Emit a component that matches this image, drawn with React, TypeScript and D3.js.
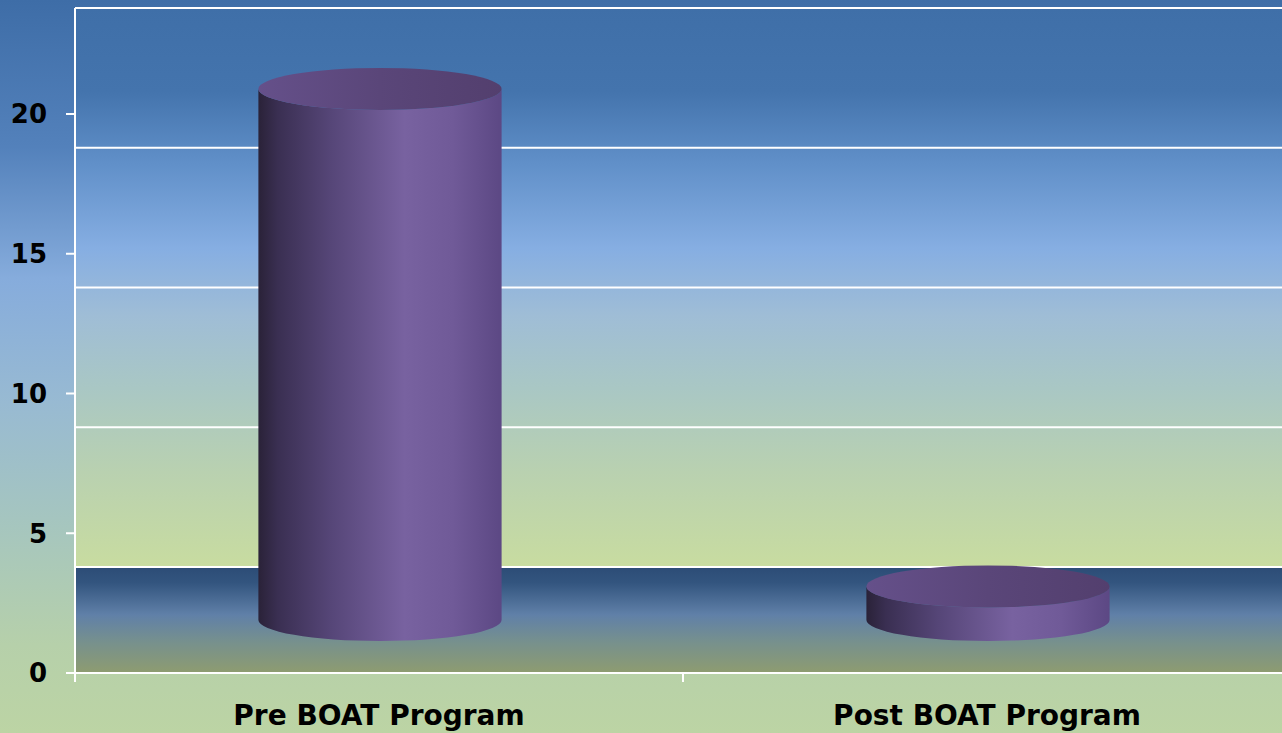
import * as d3 from "d3";

// Chart data
const categories = ["Pre BOAT Program", "Post BOAT Program"];
const values = [19, 1.2];
const yTicks = [0, 5, 10, 15, 20];

const W = 1282;
const H = 733;

const App = () => {
  // front edge of the floor (axis labels) and back-wall offset
  const left = 75;
  const right = 1291;
  const y = d3.scaleLinear().domain([0, 20]).range([673, 114]);
  const depth = 106; // back wall is shifted up by this much
  const x = d3.scaleBand().domain(categories).range([left, right]);

  const backY = (v: number) => y(v) - depth;
  const midY = (v: number) => y(v) - depth / 2;

  const rx = x.bandwidth() * 0.2;
  const ry = 21;

  const font = "'DejaVu Sans', Verdana, sans-serif";

  return (
    <svg
      width={W}
      height={H}
      style={{ position: "absolute", left: 0, top: 0, display: "block" }}
    >
      <defs>
        <linearGradient id="pageBg" x1="0" y1="0" x2="0" y2="1">
          <stop offset="0" stopColor="#3e6da7" />
          <stop offset="0.2" stopColor="#5381bb" />
          <stop offset="0.38" stopColor="#86acdc" />
          <stop offset="0.55" stopColor="#98bad2" />
          <stop offset="0.72" stopColor="#a6c6be" />
          <stop offset="0.88" stopColor="#b6d0aa" />
          <stop offset="1" stopColor="#bcd4a4" />
        </linearGradient>
        <linearGradient id="wallBg" x1="0" y1="0" x2="0" y2="1">
          <stop offset="0" stopColor="#3f6fa8" />
          <stop offset="0.15" stopColor="#4474ad" />
          <stop offset="0.28" stopColor="#6190c9" />
          <stop offset="0.43" stopColor="#86aee2" />
          <stop offset="0.55" stopColor="#9fbdd6" />
          <stop offset="0.68" stopColor="#a9c7c4" />
          <stop offset="0.83" stopColor="#b9d1b0" />
          <stop offset="1" stopColor="#c8dca0" />
        </linearGradient>
        <linearGradient id="floorBg" x1="0" y1="0" x2="0" y2="1">
          <stop offset="0" stopColor="#2c4c76" />
          <stop offset="0.15" stopColor="#33557f" />
          <stop offset="0.45" stopColor="#6080a8" />
          <stop offset="0.7" stopColor="#76908e" />
          <stop offset="1" stopColor="#8e9c70" />
        </linearGradient>
        <linearGradient id="cylSide" x1="0" y1="0" x2="1" y2="0">
          <stop offset="0" stopColor="#2a2238" />
          <stop offset="0.08" stopColor="#3a2f52" />
          <stop offset="0.3" stopColor="#564678" />
          <stop offset="0.6" stopColor="#7862a0" />
          <stop offset="0.8" stopColor="#705a98" />
          <stop offset="1" stopColor="#5c4884" />
        </linearGradient>
        <linearGradient id="cylTop" x1="0" y1="0" x2="1" y2="0">
          <stop offset="0" stopColor="#65508a" />
          <stop offset="0.5" stopColor="#5a4679" />
          <stop offset="1" stopColor="#533f6e" />
        </linearGradient>
      </defs>

      {/* page background */}
      <rect x={0} y={0} width={W} height={H} fill="url(#pageBg)" />

      {/* back wall */}
      <rect
        x={left}
        y={backY(20)}
        width={right - left}
        height={backY(0) - backY(20)}
        fill="url(#wallBg)"
      />

      {/* floor */}
      <rect
        x={left}
        y={backY(0)}
        width={right - left}
        height={y(0) - backY(0)}
        fill="url(#floorBg)"
      />

      {/* wall gridlines */}
      {yTicks.map((t) => (
        <line
          key={"g" + t}
          x1={left}
          x2={right}
          y1={backY(t)}
          y2={backY(t)}
          stroke="#ffffff"
          strokeWidth={2}
        />
      ))}

      {/* value axis */}
      <line x1={left} x2={left} y1={backY(20)} y2={y(0) + 9} stroke="#ffffff" strokeWidth={2} />
      {yTicks.map((t) => (
        <g key={"t" + t}>
          <line x1={left - 9} x2={left} y1={y(t)} y2={y(t)} stroke="#ffffff" strokeWidth={2} />
          <text
            x={47}
            y={y(t)}
            dy="0.36em"
            textAnchor="end"
            fontFamily={font}
            fontWeight="bold"
            fontSize={26}
            fill="#000000"
          >
            {t}
          </text>
        </g>
      ))}

      {/* category axis */}
      <line x1={left} x2={right} y1={y(0)} y2={y(0)} stroke="#ffffff" strokeWidth={2} />
      {categories.map((c) => (
        <line
          key={"ct" + c}
          x1={(x(c) as number) + x.bandwidth()}
          x2={(x(c) as number) + x.bandwidth()}
          y1={y(0)}
          y2={y(0) + 9}
          stroke="#ffffff"
          strokeWidth={2}
        />
      ))}
      {categories.map((c) => (
        <text
          key={"cl" + c}
          x={(x(c) as number) + x.bandwidth() / 2}
          y={725}
          textAnchor="middle"
          fontFamily={font}
          fontWeight="bold"
          fontSize={28}
          fill="#000000"
        >
          {c}
        </text>
      ))}

      {/* cylinders */}
      {categories.map((c, i) => {
        const cx = (x(c) as number) + x.bandwidth() / 2 + 1;
        const yt = midY(values[i]);
        const yb = midY(0);
        const side = `M${cx - rx},${yt} L${cx - rx},${yb} A${rx},${ry} 0 0 0 ${cx + rx},${yb} L${cx + rx},${yt} A${rx},${ry} 0 0 1 ${cx - rx},${yt} Z`;
        return (
          <g key={"cyl" + c}>
            <path d={side} fill="url(#cylSide)" />
            <ellipse cx={cx} cy={yt} rx={rx} ry={ry} fill="url(#cylTop)" />
          </g>
        );
      })}
    </svg>
  );
};

export default App;
